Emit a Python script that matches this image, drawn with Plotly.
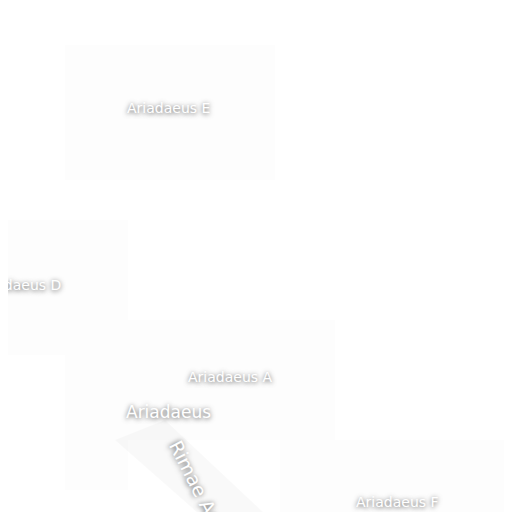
import plotly.graph_objects as go

# page body adds an 8px offset, so everything is placed 8px up/left
labels = ["Ariadaeus E", "Ariadaeus D", "Ariadaeus A", "Ariadaeus", "Rimae Ariadaeus", "Ariadaeus F"]
label_x = [160, 10, 222, 160, 203, 389]
label_y = [100, 277, 369, 404, 505, 494]
label_size = [14, 14, 14, 17, 19, 14]
label_angle = [0, 0, 0, 0, 63, 0]

# faint tile patches behind the labels
box_x0 = [57, -10, 120, 57, 272]
box_x1 = [267, 120, 327, 120, 520]
box_y0 = [37, 212, 312, 347, 432]
box_y1 = [172, 347, 432, 482, 520]

fig = go.Figure()
fig.add_trace(go.Scatter(x=[0, 512], y=[0, 512], mode="markers", marker=dict(opacity=0), hoverinfo="skip"))

for x0, x1, y0, y1 in zip(box_x0, box_x1, box_y0, box_y1):
    fig.add_shape(type="rect", x0=x0, x1=x1, y0=y0, y1=y1, line_width=0,
                  fillcolor="rgba(0,0,0,0.008)", layer="below")

fig.add_shape(type="path", path="M 107 432 L 157 412 L 272 520 L 207 520 Z",
              line_width=0, fillcolor="rgba(0,0,0,0.025)", layer="below")

for t, x, y, s, a in zip(labels, label_x, label_y, label_size, label_angle):
    fig.add_annotation(x=x, y=y, text=t, showarrow=False, textangle=a,
                       font=dict(family="DejaVu Sans", size=s, color="white",
                                 shadow="0px 1px 5px rgba(0,0,0,0.7)"))

fig.update_xaxes(range=[0, 512], visible=False)
fig.update_yaxes(range=[512, 0], visible=False)
fig.update_layout(width=512, height=512, margin=dict(l=0, r=0, t=0, b=0),
                  paper_bgcolor="white", plot_bgcolor="white", showlegend=False)
fig.write_html("out.html")
